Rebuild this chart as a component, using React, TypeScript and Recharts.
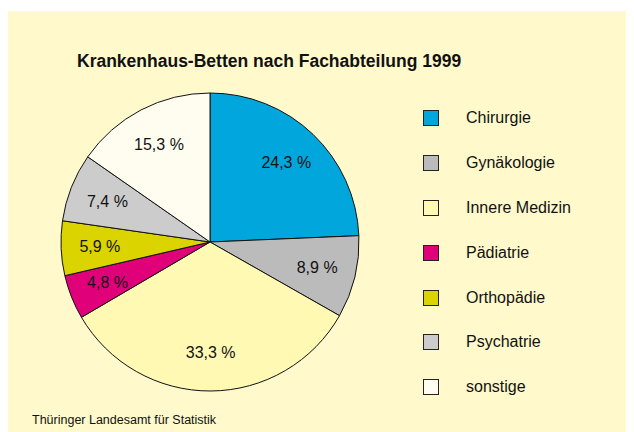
import { PieChart, Pie, Cell, Legend } from 'recharts';

const categories = ['Chirurgie', 'Gynäkologie', 'Innere Medizin', 'Pädiatrie', 'Orthopädie', 'Psychatrie', 'sonstige'];
const shares = [24.3, 8.9, 33.3, 4.8, 5.9, 7.4, 15.3];
const colors = ['#00a6dc', '#bbbbbb', '#fff9b4', '#e0007a', '#dcd400', '#cccccc', '#fffdf0'];

const title = 'Krankenhaus-Betten nach Fachabteilung 1999';
const source = 'Thüringer Landesamt für Statistik';

const FONT = '"Liberation Sans", Arial, Helvetica, sans-serif';
const RAD = Math.PI / 180;

const data = categories.map((name, i) => ({ name, value: shares[i] }));

// percentage labels sit inside the slices, about 3/4 out from the centre
const renderLabel = (props: any) => {
  const { cx, cy, midAngle, outerRadius, value } = props;
  const r = outerRadius * 0.74;
  const x = cx + r * Math.cos(-midAngle * RAD);
  const y = cy + r * Math.sin(-midAngle * RAD);
  return (
    <text x={x} y={y} fill="#111" fontSize={16} fontFamily={FONT} textAnchor="middle" dominantBaseline="central">
      {value.toFixed(1).replace('.', ',')} %
    </text>
  );
};

const renderLegend = () => (
  <div style={{ fontFamily: FONT, fontSize: 16, color: '#111' }}>
    {categories.map((name, i) => (
      <div key={name} style={{ height: 44.8, display: 'flex', alignItems: 'center' }}>
        <div
          style={{
            width: 14,
            height: 14,
            background: colors[i],
            border: '1.5px solid #222',
            marginRight: 27,
          }}
        />
        <span>{name}</span>
      </div>
    ))}
  </div>
);

export default function App() {
  return (
    <div style={{ position: 'relative', width: 627, height: 421, marginTop: 3, marginLeft: -1, background: '#fff9cc' }}>
      <div
        style={{
          position: 'absolute',
          top: 40,
          left: 70,
          whiteSpace: 'nowrap',
          fontFamily: FONT,
          fontWeight: 'bold',
          fontSize: 17.5,
          color: '#111',
        }}
      >
        {title}
      </div>
      <PieChart
        width={627}
        height={421}
        margin={{ top: 0, right: 0, bottom: 0, left: 0 }}
        style={{ position: 'absolute', top: 0, left: 0 }}
      >
        <Pie
          data={data}
          dataKey="value"
          nameKey="name"
          cx={203}
          cy={231}
          outerRadius={149}
          startAngle={90}
          endAngle={-270}
          stroke="#111"
          strokeWidth={1}
          label={renderLabel}
          labelLine={false}
          isAnimationActive={false}
        >
          {data.map((d, i) => (
            <Cell key={d.name} fill={colors[i]} />
          ))}
        </Pie>
        <Legend
          content={renderLegend}
          layout="vertical"
          wrapperStyle={{ position: 'absolute', left: 416, top: 85, width: 200 }}
        />
      </PieChart>
      <div
        style={{
          position: 'absolute',
          left: 25,
          top: 402,
          fontFamily: FONT,
          fontSize: 12.5,
          color: '#111',
        }}
      >
        {source}
      </div>
    </div>
  );
}
